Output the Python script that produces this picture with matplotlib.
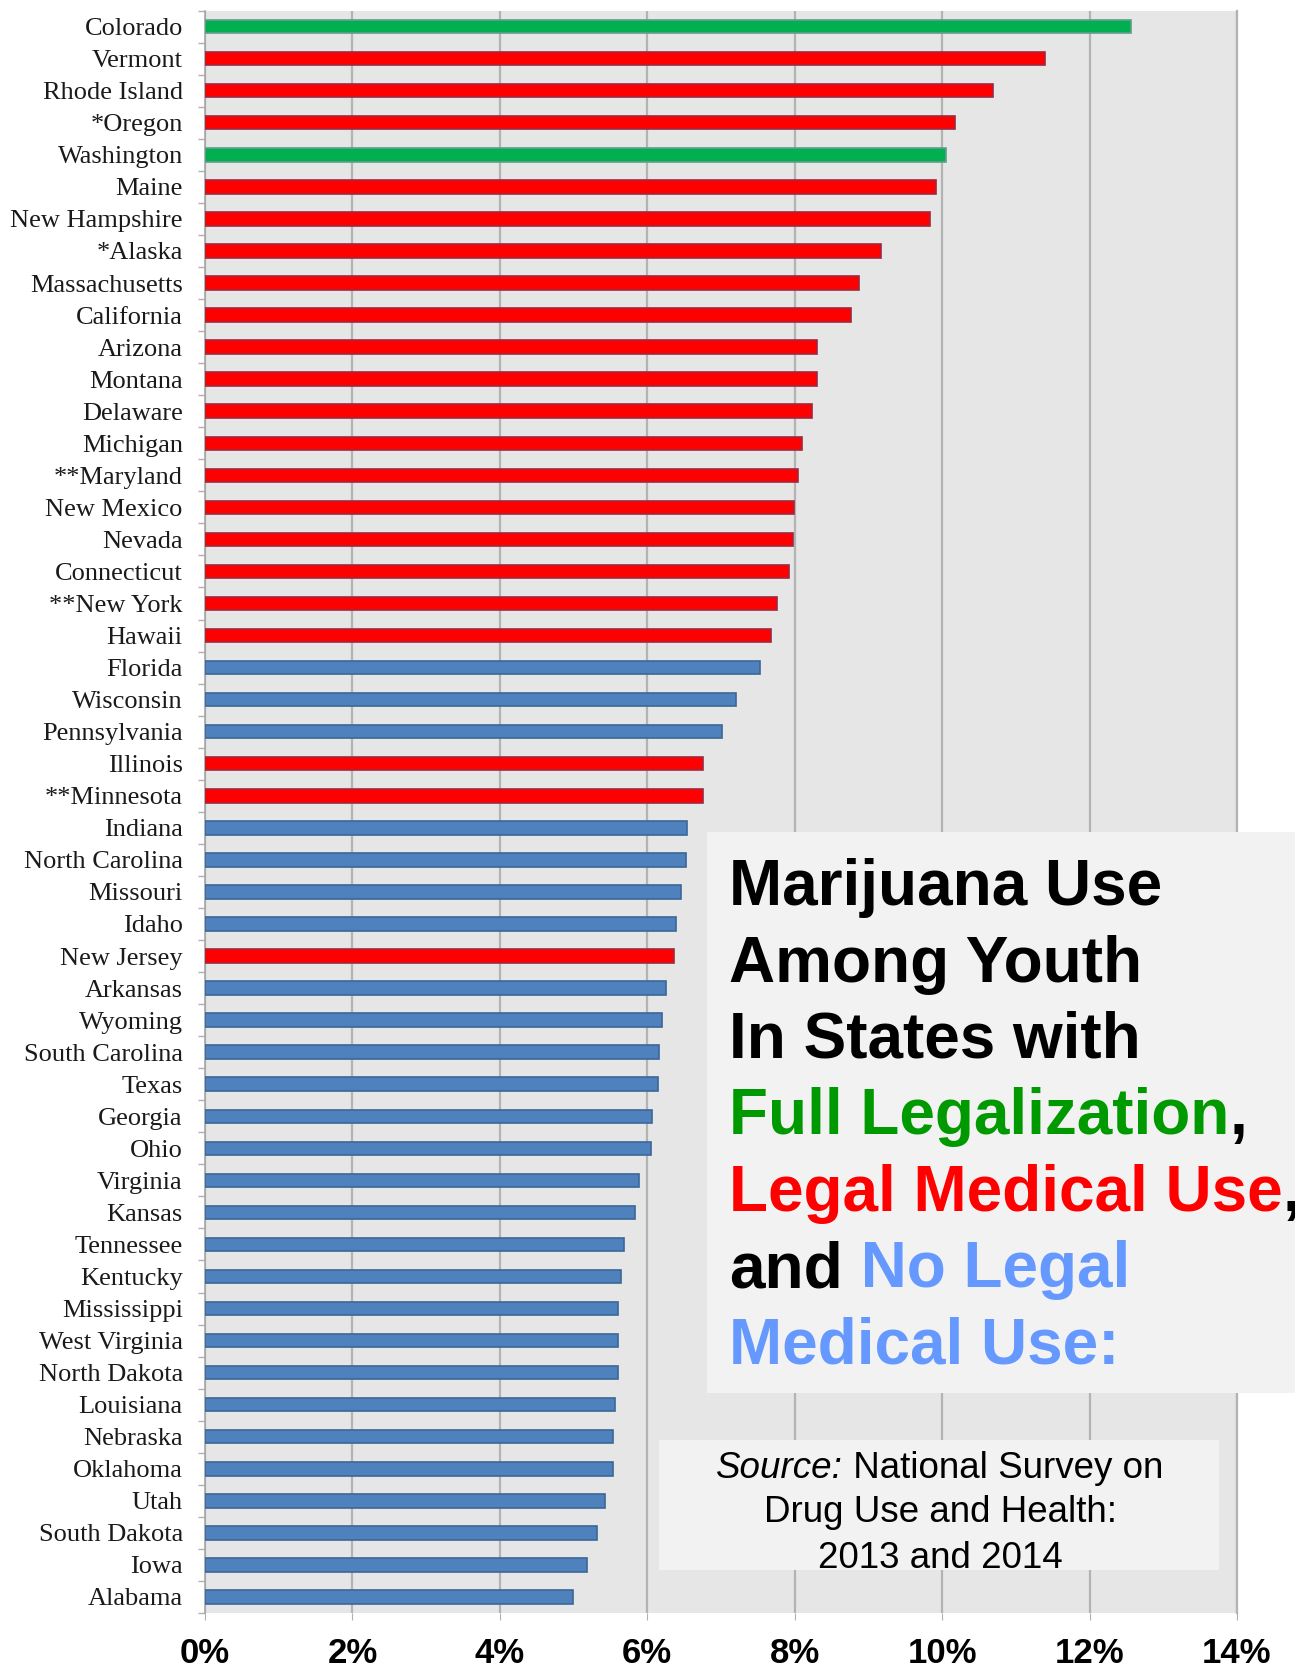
import matplotlib
matplotlib.use("Agg")
import matplotlib.pyplot as plt
from matplotlib.ticker import FixedLocator, FuncFormatter

states = ["Colorado", "Vermont", "Rhode Island", "*Oregon", "Washington", "Maine",
          "New Hampshire", "*Alaska", "Massachusetts", "California", "Arizona", "Montana",
          "Delaware", "Michigan", "**Maryland", "New Mexico", "Nevada", "Connecticut",
          "**New York", "Hawaii", "Florida", "Wisconsin", "Pennsylvania", "Illinois",
          "**Minnesota", "Indiana", "North Carolina", "Missouri", "Idaho", "New Jersey",
          "Arkansas", "Wyoming", "South Carolina", "Texas", "Georgia", "Ohio", "Virginia",
          "Kansas", "Tennessee", "Kentucky", "Mississippi", "West Virginia", "North Dakota",
          "Louisiana", "Nebraska", "Oklahoma", "Utah", "South Dakota", "Iowa", "Alabama"]
values = [12.56, 11.40, 10.69, 10.17, 10.05, 9.92, 9.84, 9.17, 8.87, 8.76, 8.30, 8.30,
          8.24, 8.10, 8.05, 7.99, 7.98, 7.92, 7.76, 7.68, 7.53, 7.20, 7.01, 6.75, 6.75,
          6.54, 6.52, 6.46, 6.39, 6.36, 6.25, 6.20, 6.16, 6.15, 6.06, 6.05, 5.89, 5.84,
          5.69, 5.64, 5.60, 5.60, 5.60, 5.56, 5.54, 5.53, 5.43, 5.32, 5.18, 4.99]
# status: F = full legalization, M = legal medical use, N = no legal medical use
status = ["F", "M", "M", "M", "F", "M", "M", "M", "M", "M", "M", "M", "M", "M", "M",
          "M", "M", "M", "M", "M", "N", "N", "N", "M", "M", "N", "N", "N", "N", "M",
          "N", "N", "N", "N", "N", "N", "N", "N", "N", "N", "N", "N", "N", "N", "N",
          "N", "N", "N", "N", "N"]
x_ticks = [0, 2, 4, 6, 8, 10, 12, 14]

fill = {"F": "#00B050", "M": "#FF0000", "N": "#4F81BD"}
edge = {"F": "#5F9E8A", "M": "#A0283F", "N": "#3A6699"}

W, H = 1295, 1670
fig = plt.figure(figsize=(W / 100, H / 100), dpi=100)
ax = fig.add_axes([205 / W, 1 - 1613 / H, (1237 - 205) / W, (1613 - 10.6) / H])
ax.set_facecolor("#E6E6E6")

n = len(states)
ypos = list(range(n))
ax.barh(ypos, values, height=0.42,
        color=[fill[s] for s in status],
        edgecolor=[edge[s] for s in status], linewidth=1.2, zorder=3)
ax.set_ylim(n - 0.5, -0.5)
ax.set_xlim(0, 14)

ax.set_yticks(ypos)
ax.set_yticklabels(states, family="Liberation Serif", fontsize=19, color="#1a1a1a")
ax.tick_params(axis="y", which="major", length=0, pad=16)
ax.yaxis.set_minor_locator(FixedLocator([i - 0.5 for i in range(n + 1)]))
ax.tick_params(axis="y", which="minor", length=5, color="#B0B0B0", width=1)

ax.set_xticks(x_ticks)
ax.xaxis.set_major_formatter(FuncFormatter(lambda v, p: f"{int(v)}%"))
ax.tick_params(axis="x", length=5, color="#B0B0B0", pad=12)
for lab in ax.get_xticklabels():
    lab.set_family("Liberation Sans")
    lab.set_fontweight("bold")
    lab.set_fontsize(25)

ax.grid(axis="x", color="#B3B3B3", linewidth=1.6, zorder=1)
ax.set_axisbelow(True)
for sp in ["top", "bottom"]:
    ax.spines[sp].set_visible(False)
ax.spines["left"].set_color("#A6A6A6")
ax.spines["left"].set_linewidth(1.2)
ax.spines["right"].set_color("#B3B3B3")
ax.spines["right"].set_linewidth(1.6)

# title box
box = plt.Rectangle((707 / W, 1 - 1393 / H), (W - 707) / W, (1393 - 832) / H,
                    transform=fig.transFigure, facecolor="#F2F2F2", edgecolor="none", zorder=5)
fig.add_artist(box)

title_lines = [
    [("Marijuana Use", "#000000")],
    [("Among Youth", "#000000")],
    [("In States with", "#000000")],
    [("Full Legalization", "#009900"), (",", "#000000")],
    [("Legal Medical Use", "#FF0000"), (",", "#000000")],
    [("and", "#000000"), (" No Legal", "#6699FF")],
    [("Medical Use:", "#6699FF")],
]
baselines = [905, 981.5, 1058, 1134, 1211, 1287, 1364]
fig.canvas.draw()
r = fig.canvas.get_renderer()
for segs, yb in zip(title_lines, baselines):
    x = 729 / W
    for s, c in segs:
        t = fig.text(x, 1 - yb / H, s, color=c, fontsize=46, fontweight="bold",
                     family="Liberation Sans", ha="left", va="baseline", zorder=6)
        bb = t.get_window_extent(renderer=r)
        x = bb.x1 / fig.bbox.width

# source box
sbox = plt.Rectangle((659 / W, 1 - 1570 / H), (1219 - 659) / W, (1570 - 1440) / H,
                     transform=fig.transFigure, facecolor="#F2F2F2", edgecolor="none", zorder=5)
fig.add_artist(sbox)
cx = 940 / W
fs_src = 26.5
s_a = fig.text(0, 1 - 1469 / H, "Source:", style="italic", family="Liberation Sans",
               fontsize=fs_src, va="center", ha="left", zorder=6)
s_b = fig.text(0, 1 - 1469 / H, " National Survey on", family="Liberation Sans",
               fontsize=fs_src, va="center", ha="left", zorder=6)
wa = s_a.get_window_extent(renderer=r).width
wb = s_b.get_window_extent(renderer=r).width
x0 = cx * W - (wa + wb) / 2
s_a.set_x(x0 / W)
s_b.set_x((x0 + wa) / W)
fig.text(cx, 1 - 1513 / H, "Drug Use and Health:", family="Liberation Sans",
         fontsize=fs_src, va="center", ha="center", zorder=6)
fig.text(cx, 1 - 1558 / H, "2013 and 2014", family="Liberation Sans",
         fontsize=fs_src, va="center", ha="center", zorder=6)

fig.savefig("out.png", dpi=100)
